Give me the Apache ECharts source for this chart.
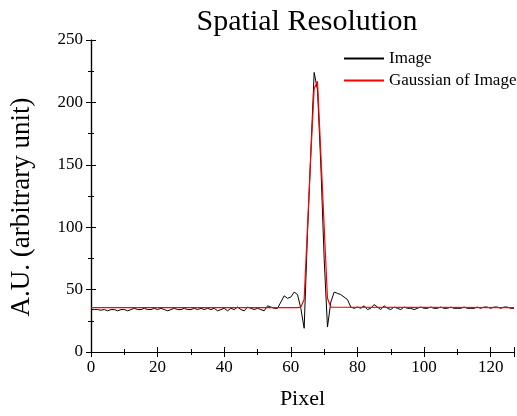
<!DOCTYPE html>
<html>
<head>
<meta charset="utf-8">
<script src="https://cdn.jsdelivr.net/npm/echarts@6/dist/echarts.min.js"></script>
<style>
html, body { margin: 0; padding: 0; background: #fff; }
#chart { width: 517px; height: 416px; }
</style>
</head>
<body>
<div id="chart"></div>
<script>
// measured profile, one value per pixel (0..127)
var image_values = [
    34, 34, 34, 33.5, 34, 33, 34, 34, 33, 34,
    34, 33, 34, 35, 34, 34, 35, 34, 34, 35,
    34, 35, 34, 33, 34, 35, 34, 34, 35, 34,
    34, 35, 34, 35, 34, 35, 34, 35, 33, 34,
    35, 33, 35, 34, 36, 34, 33, 36, 35, 34,
    35, 34, 33, 37, 36, 35, 35, 40, 45, 43,
    44, 48, 46, 35, 19, 95, 160, 224, 210, 150,
    75, 20, 40, 48, 47, 46, 44, 42, 36, 35,
    36, 35, 37, 34, 35, 38, 36, 34, 37, 35,
    34, 36, 35, 34, 36, 35, 35, 34, 35, 36,
    35, 35, 36, 35, 35, 36, 35, 35, 36, 35,
    35, 35, 36, 35, 35, 35, 36, 35, 36, 36,
    35, 36, 36, 35, 36, 36, 35, 35
];
// gaussian fit: flat baseline away from the peak
var gauss_x = [0, 62, 63, 64, 65, 66, 67, 68, 69, 70, 71, 72, 127];
var gauss_y = [35.5, 35.5, 36, 42, 100, 158, 211, 217, 159, 101, 43, 36, 35.5];

var x_ticks = [0, 20, 40, 60, 80, 100, 120];
var y_ticks = [0, 50, 100, 150, 200, 250];

var image_data = [];
for (var i = 0; i < image_values.length; i++) {
    image_data.push([i, image_values[i]]);
}
var gauss_data = [];
for (var j = 0; j < gauss_x.length; j++) {
    gauss_data.push([gauss_x[j], gauss_y[j]]);
}

var font = '"Liberation Serif", "DejaVu Serif", serif';
var chart = echarts.init(document.getElementById('chart'));

var axis_common = {
    type: 'value',
    axisLine: { show: true, lineStyle: { color: '#000', width: 1.2 } },
    axisTick: { show: true, inside: true, length: 5, lineStyle: { color: '#000' } },
    minorTick: { show: true, splitNumber: 2, length: 3, lineStyle: { color: '#000' } },
    splitLine: { show: false }
};

var option = {
    animation: false,
    backgroundColor: '#fff',
    title: {
        text: 'Spatial Resolution',
        left: 302,
        textAlign: 'center',
        top: 2,
        textStyle: { fontFamily: font, fontSize: 30, fontWeight: 'normal', color: '#000' }
    },
    legend: {
        orient: 'vertical',
        left: 338,
        top: 45,
        itemWidth: 40,
        itemGap: 5,
        textStyle: { fontFamily: font, fontSize: 17, color: '#000' },
        itemStyle: { opacity: 0 },
        data: ['Image', 'Gaussian of Image']
    },
    grid: { left: 90, right: 2, top: 40, bottom: 64 },
    xAxis: [
        Object.assign({}, axis_common, {
            min: 0, max: 127, interval: 20,
            position: 'bottom',
            name: 'Pixel',
            nameLocation: 'middle',
            nameGap: 36,
            nameTextStyle: { fontFamily: font, fontSize: 22, color: '#000' },
            axisLabel: {
                fontFamily: font, fontSize: 17, color: '#000', margin: 7,
                formatter: function (v) { return x_ticks.indexOf(v) >= 0 ? v : ''; }
            }
        }),
        Object.assign({}, axis_common, {
            min: 0, max: 127, interval: 20,
            position: 'top',
            axisLabel: { show: false }
        })
    ],
    yAxis: [
        Object.assign({}, axis_common, {
            min: 0, max: 250, interval: 50,
            position: 'left',
            name: 'A.U. (arbitrary unit)',
            nameLocation: 'middle',
            nameGap: 56,
            nameTextStyle: { fontFamily: font, fontSize: 27, color: '#000', padding: [0, 22, 0, 0] },
            axisLabel: {
                fontFamily: font, fontSize: 17, color: '#000', margin: 8,
                formatter: function (v) { return y_ticks.indexOf(v) >= 0 ? v : ''; }
            }
        }),
        Object.assign({}, axis_common, {
            min: 0, max: 250, interval: 50,
            position: 'right',
            axisLabel: { show: false }
        })
    ],
    series: [
        {
            name: 'Image',
            type: 'line',
            data: image_data,
            symbol: 'none',
            lineStyle: { color: '#000', width: 1 },
            itemStyle: { color: '#000' }
        },
        {
            name: 'Gaussian of Image',
            type: 'line',
            data: gauss_data,
            symbol: 'none',
            lineStyle: { color: '#ff0000', width: 1.2 },
            itemStyle: { color: '#ff0000' }
        }
    ]
};

chart.setOption(option);
</script>
</body>
</html>
